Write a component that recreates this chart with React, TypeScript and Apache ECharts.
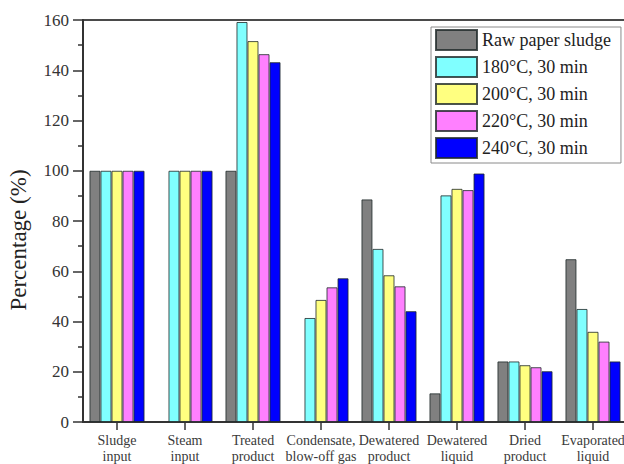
import React, { useEffect, useRef } from "react";
import * as echarts from "echarts";

const categories = [
  "Sludge\ninput",
  "Steam\ninput",
  "Treated\nproduct",
  "Condensate,\nblow-off gas",
  "Dewatered\nproduct",
  "Dewatered\nliquid",
  "Dried\nproduct",
  "Evaporated\nliquid",
];

const seriesNames = [
  "Raw paper sludge",
  "180°C, 30 min",
  "200°C, 30 min",
  "220°C, 30 min",
  "240°C, 30 min",
];

const rawSludge = [100, null, 100, null, 88.6, 11.4, 24.1, 64.8];
const t180 = [100, 100, 159.2, 41.4, 68.9, 90.2, 24.1, 45.0];
const t200 = [100, 100, 151.6, 48.6, 58.4, 92.8, 22.6, 35.9];
const t220 = [100, 100, 146.4, 53.6, 54.0, 92.3, 21.8, 32.0];
const t240 = [100, 100, 143.2, 57.2, 44.1, 98.9, 20.2, 24.1];

const seriesData = [rawSludge, t180, t200, t220, t240];
const colors = ["#808080", "#80FFFF", "#FFFF80", "#FF80FF", "#0000FF"];

const yTicks = { min: 0, max: 160, interval: 20 };
const yAxisTitle = "Percentage (%)";

const FONT = "'Liberation Serif', 'DejaVu Serif', serif";

export default function App() {
  const ref = useRef<HTMLDivElement>(null);

  useEffect(() => {
    if (!ref.current) return;
    const chart = echarts.init(ref.current, undefined, { renderer: "svg" });
    chart.setOption({
      animation: false,
      backgroundColor: "#ffffff",
      grid: {
        left: 83,
        right: 13,
        top: 20,
        height: 402,
        containLabel: false,
        outerBoundsMode: "none",
        show: true,
        borderColor: "#4a4a4a",
        borderWidth: 2,
        backgroundColor: "transparent",
      },
      legend: {
        show: true,
        orient: "vertical",
        left: 431,
        top: 27,
        padding: [2, 10, 4, 4],
        itemWidth: 41,
        itemHeight: 20,
        itemGap: 5,
        borderColor: "#8a8a8a",
        borderWidth: 1,
        borderRadius: 0,
        backgroundColor: "#ffffff",
        textStyle: { fontFamily: FONT, fontSize: 18, color: "#222" },
        data: seriesNames.map((n) => ({ name: n, icon: "rect" })),
      },
      xAxis: {
        type: "category",
        data: categories,
        axisLine: { show: true, lineStyle: { color: "#333", width: 2 } },
        axisTick: {
          show: true,
          alignWithLabel: true,
          length: 8,
          lineStyle: { color: "#333", width: 1.5 },
        },
        axisLabel: {
          fontFamily: FONT,
          fontSize: 14,
          lineHeight: 16,
          color: "#3a3a3a",
          margin: 10,
          interval: 0,
        },
        splitLine: { show: false },
      },
      yAxis: {
        type: "value",
        min: yTicks.min,
        max: yTicks.max,
        interval: yTicks.interval,
        axisLine: { show: true, lineStyle: { color: "#333", width: 2 } },
        axisTick: { show: true, length: 10, lineStyle: { color: "#333", width: 1.5 } },
        minorTick: { show: true, splitNumber: 2, length: 5, lineStyle: { color: "#333", width: 1.5 } },
        axisLabel: {
          fontFamily: FONT,
          fontSize: 17,
          color: "#333",
          margin: 14,
        },
        splitLine: { show: false },
      },
      graphic: [
        {
          type: "text",
          x: 18,
          y: 240,
          rotation: Math.PI / 2,
          style: {
            text: yAxisTitle,
            fontFamily: FONT,
            fontSize: 23,
            fill: "#222",
            align: "center",
            verticalAlign: "middle",
          },
        },
      ],
      series: seriesNames.map((name, i) => ({
        name,
        type: "bar",
        data: seriesData[i],
        barGap: "0%",
        barCategoryGap: "19%",
        itemStyle: {
          color: colors[i],
          borderColor: "rgba(30,40,40,0.8)",
          borderWidth: 1,
        },
      })),
    });
    return () => chart.dispose();
  }, []);

  return (
    <div
      style={{
        position: "fixed",
        left: 0,
        top: 0,
        width: 624,
        height: 464,
        overflow: "hidden",
        background: "#fff",
      }}
    >
      <div ref={ref} style={{ width: 640, height: 464 }} />
    </div>
  );
}
